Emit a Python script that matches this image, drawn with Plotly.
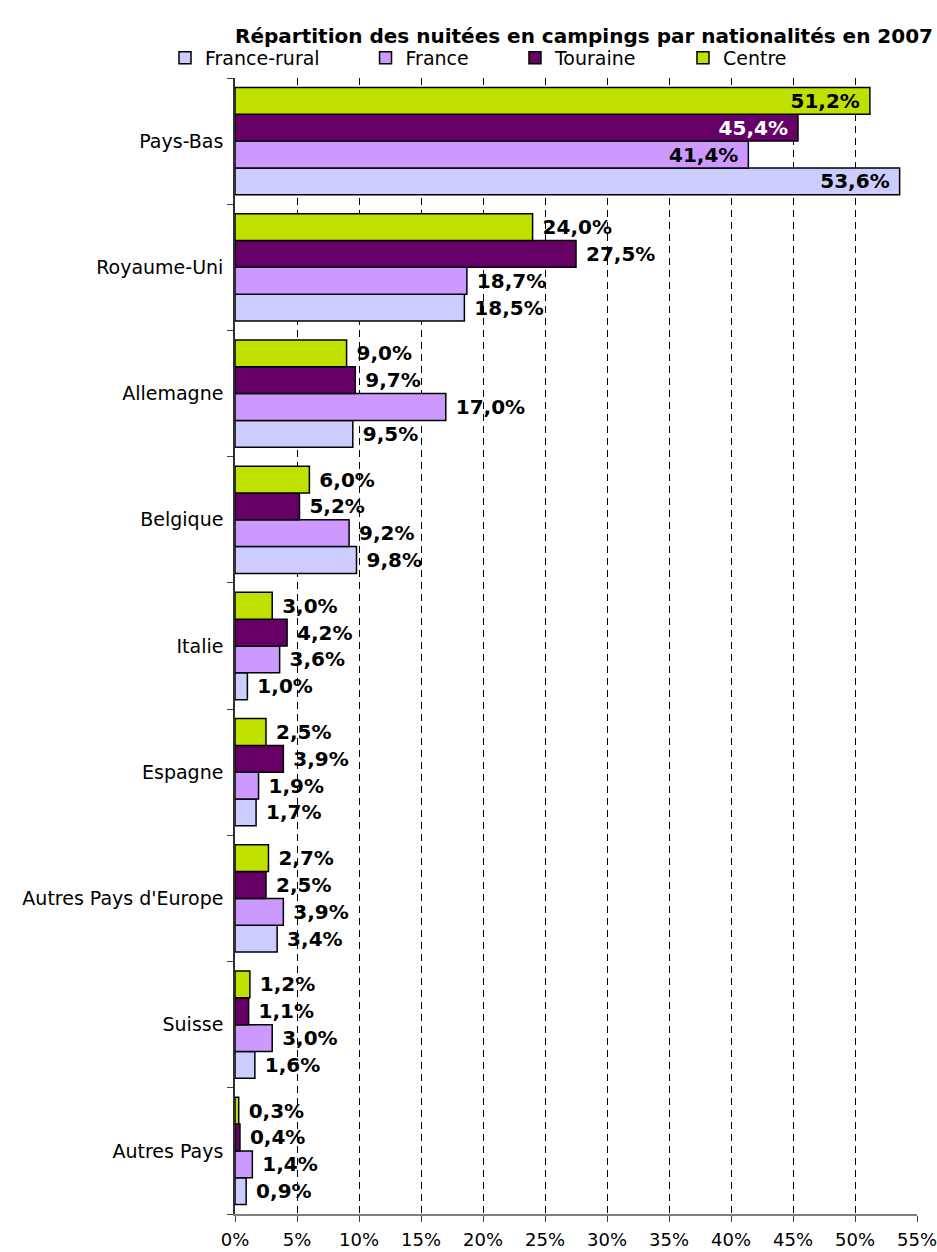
import plotly.graph_objects as go

categories = ["Pays-Bas", "Royaume-Uni", "Allemagne", "Belgique", "Italie",
              "Espagne", "Autres Pays d'Europe", "Suisse", "Autres Pays"]
france_rural = [53.6, 18.5, 9.5, 9.8, 1.0, 1.7, 3.4, 1.6, 0.9]
france = [41.4, 18.7, 17.0, 9.2, 3.6, 1.9, 3.9, 3.0, 1.4]
touraine = [45.4, 27.5, 9.7, 5.2, 4.2, 3.9, 2.5, 1.1, 0.4]
centre = [51.2, 24.0, 9.0, 6.0, 3.0, 2.5, 2.7, 1.2, 0.3]

series = [
    ("France-rural", france_rural, "#CCCCFF", "black"),
    ("France", france, "#CC99FF", "black"),
    ("Touraine", touraine, "#660066", "white"),
    ("Centre", centre, "#C0E000", "black"),
]
legend_x = [0.1761, 0.3901, 0.5496, 0.7289]

x_ticks = list(range(0, 56, 5))
NB = "\u00a0"

fig = go.Figure()
for i, (name, vals, color, inside_color) in enumerate(series):
    texts = []
    positions = []
    tcolors = []
    for c, v in zip(categories, vals):
        lab = f"{v:.1f}".replace(".", ",") + "%"
        if c == "Pays-Bas":
            texts.append(lab + NB)
            positions.append("inside")
            tcolors.append(inside_color)
        else:
            texts.append(NB + lab)
            positions.append("outside")
            tcolors.append("black")
    lg = "legend" if i == 0 else f"legend{i+1}"
    fig.add_trace(go.Bar(
        name=name, y=categories, x=vals, orientation="h",
        marker=dict(color=color, line=dict(color="black", width=1.5)),
        text=texts, textposition=positions, insidetextanchor="end",
        textfont=dict(family="DejaVu Sans", size=20, color=tcolors, weight="bold"),
        textangle=0, constraintext="none", cliponaxis=False,
        legend=lg, showlegend=True,
    ))

leg_common = dict(orientation="h", xanchor="left", xref="container",
                  y=1.0176, yanchor="middle",
                  font=dict(family="DejaVu Sans", size=19, color="black"),
                  itemwidth=30, bgcolor="rgba(0,0,0,0)", visible=True)
layout_legends = {}
for i, lx in enumerate(legend_x):
    key = "legend" if i == 0 else f"legend{i+1}"
    layout_legends[key] = dict(leg_common, x=lx)

fig.update_layout(
    width=937, height=1252,
    barmode="group", bargap=0.15, bargroupgap=0,
    plot_bgcolor="white", paper_bgcolor="white",
    margin=dict(l=235, r=20, t=78, b=38, autoexpand=False),
    title=dict(text="<b>Répartition des nuitées en campings par nationalités en 2007</b>",
               x=0.6233, xanchor="center", y=0.9712, yanchor="middle",
               font=dict(family="DejaVu Sans", size=20, color="black")),
    font=dict(family="DejaVu Sans", color="black"),
    showlegend=True,
    **layout_legends,
)
fig.update_xaxes(
    range=[0, 55], tickvals=x_ticks, ticktext=[f"{v}%" for v in x_ticks],
    showgrid=True, gridcolor="black", griddash="7px,5px", gridwidth=1,
    showline=True, linecolor="#808080", linewidth=2,
    ticks="outside", ticklen=6, tickcolor="#404040",
    tickfont=dict(family="DejaVu Sans", size=18, color="black"),
    ticklabeloverflow="allow", ticklabelstandoff=2,
    zeroline=False, fixedrange=True,
)
fig.update_yaxes(
    categoryorder="array", categoryarray=categories[::-1],
    showline=True, linecolor="#303030", linewidth=1.5,
    ticks="outside", tickson="boundaries", ticklen=6, tickcolor="#404040",
    tickfont=dict(family="DejaVu Sans", size=19, color="black"),
    showgrid=False, ticksuffix=" ",
)

fig.write_html("out.html", post_script="document.body.style.margin='0';",
               config={"displayModeBar": False})
